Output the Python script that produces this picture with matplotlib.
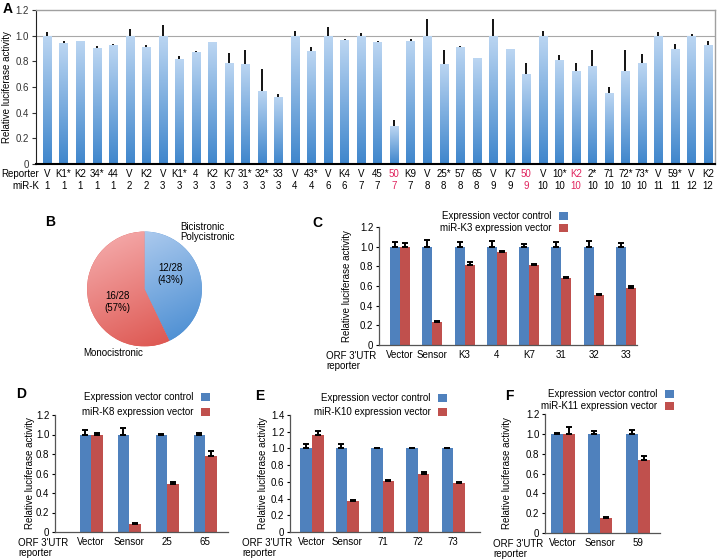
"""
Luciferase reporter assays for KSHV miRNA targets (panels A-F)
"""
import numpy as np
import matplotlib
matplotlib.use('Agg')
import matplotlib.pyplot as plt
from matplotlib.colors import LinearSegmentedColormap

plt.rcParams['font.family'] = ['Liberation Sans', 'DejaVu Sans']
plt.rcParams['font.size'] = 7

# ---- panel A data ----
a_reporter = ['V', 'K1*', 'K2', '34*', '44', 'V', 'K2', 'V', 'K1*', '4', 'K2',
              'K7', '31*', '32*', '33', 'V', '43*', 'V', 'K4', 'V', '45', '50',
              'K9', 'V', '25*', '57', '65', 'V', 'K7', '50', 'V', '10*', 'K2',
              '2*', '71', '72*', '73*', 'V', '59*', 'V', 'K2']
a_mirk = ['1', '1', '1', '1', '1', '2', '2', '3', '3', '3', '3', '3', '3', '3',
          '3', '4', '4', '6', '6', '7', '7', '7', '7', '8', '8', '8', '8', '9',
          '9', '9', '10', '10', '10', '10', '10', '10', '10', '11', '11', '12',
          '12']
a_values = [1.0, 0.94, 0.96, 0.90, 0.925, 1.0, 0.915, 1.0, 0.82, 0.873, 0.95,
            0.785, 0.78, 0.57, 0.523, 1.0, 0.878, 1.0, 0.966, 1.0, 0.95, 0.295,
            0.96, 1.0, 0.78, 0.912, 0.824, 1.0, 0.894, 0.70, 1.0, 0.813, 0.725,
            0.764, 0.552, 0.728, 0.787, 1.0, 0.896, 1.0, 0.927]
a_errors = [0.03, 0.02, 0.0, 0.02, 0.01, 0.05, 0.01, 0.08, 0.02, 0.005, 0.0,
            0.08, 0.11, 0.17, 0.02, 0.04, 0.03, 0.065, 0.01, 0.02, 0.01, 0.05,
            0.015, 0.13, 0.11, 0.005, 0.005, 0.13, 0.005, 0.09, 0.04, 0.035,
            0.065, 0.125, 0.05, 0.16, 0.07, 0.025, 0.04, 0.01, 0.03]
a_highlight = [21, 29, 32]

# ---- panel B data ----
pie_counts = [12, 16]
pie_colors = [('#4d8fd3', '#b4cff0'), ('#dd5650', '#f4a8a8')]

# ---- panel C-F data ----
c_reporters = ['Vector', 'Sensor', 'K3', '4', 'K7', '31', '32', '33']
c_ctrl = [1.0, 1.0, 1.0, 1.0, 1.0, 1.0, 1.0, 1.0]
c_ctrl_err = [0.05, 0.065, 0.05, 0.06, 0.03, 0.045, 0.06, 0.04]
c_mir = [1.0, 0.23, 0.815, 0.945, 0.81, 0.685, 0.505, 0.58]
c_mir_err = [0.04, 0.01, 0.03, 0.015, 0.015, 0.005, 0.01, 0.015]

d_reporters = ['Vector', 'Sensor', '25', '65']
d_ctrl = [1.0, 1.0, 1.0, 1.0]
d_ctrl_err = [0.045, 0.07, 0.005, 0.015]
d_mir = [1.0, 0.085, 0.49, 0.775]
d_mir_err = [0.02, 0.005, 0.025, 0.055]

e_reporters = ['Vector', 'Sensor', '71', '72', '73']
e_ctrl = [1.0, 1.0, 1.0, 1.0, 1.0]
e_ctrl_err = [0.055, 0.05, 0.01, 0.005, 0.01]
e_mir = [1.155, 0.37, 0.61, 0.69, 0.585]
e_mir_err = [0.055, 0.01, 0.01, 0.03, 0.01]

f_reporters = ['Vector', 'Sensor', '59']
f_ctrl = [1.0, 1.0, 1.0]
f_ctrl_err = [0.01, 0.03, 0.035]
f_mir = [1.0, 0.15, 0.735]
f_mir_err = [0.07, 0.01, 0.04]

BLUE = '#4f81bd'
RED = '#c0504d'
W, H = 720, 559


def px_axes(fig, x0, x1, y0, y1):
    """add axes from pixel box (top-left origin)"""
    return fig.add_axes([x0 / W, 1 - y1 / H, (x1 - x0) / W, (y1 - y0) / H])


def ftext(fig, x, y, s, **kw):
    fig.text(x / W, 1 - y / H, s, **kw)


def panel_a(fig):
    ax = px_axes(fig, 36, 715, 10, 164)
    x = np.arange(len(a_values))
    bars = ax.bar(x, a_values, 0.5, color='#4a8fd0', zorder=2)
    cmap = LinearSegmentedColormap.from_list('abar', ['#3f86cc', '#bcd6f2'])
    grad = np.linspace(0, 1, 256).reshape(-1, 1)
    for bar in bars:
        x0, w, h = bar.get_x(), bar.get_width(), bar.get_height()
        im = ax.imshow(grad, extent=[x0, x0 + w, 0, h], origin='lower',
                       cmap=cmap, aspect='auto', zorder=2)
        im.set_clip_path(bar)
    ax.errorbar(x, a_values, yerr=[np.zeros(len(x)), a_errors], fmt='none',
                ecolor='black', elinewidth=1.3, capsize=0, zorder=3)
    ax.axhline(1.0, color='#a8a8a8', lw=0.8, zorder=1)
    ax.set_xlim(-0.67, 40.42)
    ax.set_ylim(0, 1.2)
    ax.set_yticks(np.arange(0, 1.21, 0.2))
    ax.set_yticklabels(['0'] + ['%.1f' % v for v in np.arange(0.2, 1.21, 0.2)])
    ax.set_xticks([])
    ax.tick_params(axis='y', length=3, width=0.8, pad=2, labelsize=7,
                   colors='#333333')
    for s in ['top', 'right']:
        ax.spines[s].set_color('#a0a0a0')
        ax.spines[s].set_linewidth(1)
    ax.spines['left'].set_color('#222222')
    ax.spines['bottom'].set_linewidth(1.5)
    tr = ax.get_xaxis_transform()
    for i in x:
        col = '#e0245e' if i in a_highlight else 'black'
        ax.text(i, -0.065, a_reporter[i], transform=tr, ha='center',
                va='center', color=col, fontsize=7)
        ax.text(i, -0.143, a_mirk[i], transform=tr, ha='center',
                va='center', color=col, fontsize=7)
    ftext(fig, 39.5, 174, 'Reporter', ha='right', va='center')
    ftext(fig, 39.5, 186, 'miR-K', ha='right', va='center')
    ftext(fig, 7, 87, 'Relative luciferase activity', rotation=90,
          ha='center', va='center')


def panel_b(fig):
    ax = px_axes(fig, 86.5, 202.5, 231, 347)
    wedges, _ = ax.pie(pie_counts, startangle=90, counterclock=False,
                       colors=[c[0] for c in pie_colors], radius=1)
    yy, xx = np.mgrid[-1:1:200j, -1:1:200j]
    for wedge, (dark, light) in zip(wedges, pie_colors):
        cmap = LinearSegmentedColormap.from_list('pw', [dark, light])
        t = np.clip((0.45 * (-xx) + yy + 1.2) / 2.4, 0, 1)
        im = ax.imshow(t, extent=[-1, 1, -1, 1], origin='lower', cmap=cmap,
                       vmin=0, vmax=1, zorder=3)
        im.set_clip_path(wedge)
    ax.set_xlim(-1.01, 1.01)
    ax.set_ylim(-1.01, 1.01)
    ax.set_aspect('equal')
    ax.axis('off')
    ftext(fig, 180, 232, 'Bicistronic\nPolycistronic', ha='left', va='center',
          linespacing=1.05)
    ftext(fig, 170, 274, '12/28\n(43%)', ha='center', va='center',
          linespacing=1.15)
    ftext(fig, 117.5, 302, '16/28\n(57%)', ha='center', va='center',
          linespacing=1.15)
    ftext(fig, 113.5, 353, 'Monocistronic', ha='center', va='center')


def grouped_panel(fig, box, reporters, ctrl, ctrl_err, mir, mir_err, mir_label,
                  ymax, width, xlim, leg_xy, leg_sp, ylab_x, orf_xy):
    ax = px_axes(fig, *box)
    x = np.arange(len(reporters))
    ax.bar(x - width / 2, ctrl, width, color=BLUE, zorder=2,
           label='Expression vector control')
    ax.bar(x + width / 2, mir, width, color=RED, zorder=2, label=mir_label)
    zeros = np.zeros(len(x))
    ax.errorbar(x - width / 2, ctrl, yerr=[zeros, ctrl_err], fmt='none',
                ecolor='black', elinewidth=1.4, capsize=2, capthick=1.4,
                zorder=3)
    ax.errorbar(x + width / 2, mir, yerr=[zeros, mir_err], fmt='none',
                ecolor='black', elinewidth=1.4, capsize=2, capthick=1.4,
                zorder=3)
    ax.set_xlim(*xlim)
    ax.set_ylim(0, ymax)
    ticks = np.arange(0, ymax + 0.01, 0.2)
    ax.set_yticks(ticks)
    ax.set_yticklabels(['0'] + ['%.1f' % v for v in ticks[1:]])
    ax.set_xticks(x)
    ax.set_xticklabels(reporters)
    ax.tick_params(axis='x', length=0, pad=3.5, labelsize=7)
    ax.tick_params(axis='y', length=2.5, width=0.8, pad=1.5, labelsize=7)
    for s in ['top', 'right']:
        ax.spines[s].set_visible(False)
    for s in ['left', 'bottom']:
        ax.spines[s].set_color('#555555')
        ax.spines[s].set_linewidth(0.9)
    ax.legend(loc='upper right', bbox_to_anchor=(leg_xy[0] / W, 1 - leg_xy[1] / H),
              bbox_transform=fig.transFigure, frameon=False, markerfirst=False,
              handlelength=0.9, handleheight=0.9, handletextpad=0.8,
              labelspacing=leg_sp, borderpad=0, borderaxespad=0, fontsize=7)
    ftext(fig, ylab_x, (box[2] + box[3]) / 2, 'Relative luciferase activity',
          rotation=90, ha='center', va='center')
    ftext(fig, orf_xy[0], orf_xy[1], "ORF 3'UTR\nreporter", ha='left',
          va='top', linespacing=1.05)
    return ax


def main():
    fig = plt.figure(figsize=(7.2, 5.59), dpi=100)
    panel_a(fig)
    panel_b(fig)
    grouped_panel(fig, (379, 637, 227, 345), c_reporters, c_ctrl, c_ctrl_err,
                  c_mir, c_mir_err, 'miR-K3 expression vector', 1.2, 0.31,
                  (-0.65, 7.34), (568, 211), 0.25, 347, (326, 351))
    grouped_panel(fig, (55, 228, 415, 532), d_reporters, d_ctrl, d_ctrl_err,
                  d_mir, d_mir_err, 'miR-K8 expression vector', 1.2, 0.30,
                  (-0.95, 3.6), (210, 392), 0.55, 30, (18, 538))
    grouped_panel(fig, (290, 480, 415, 532), e_reporters, e_ctrl, e_ctrl_err,
                  e_mir, e_mir_err, 'miR-K10 expression vector', 1.4, 0.33,
                  (-0.62, 4.76), (447, 393), 0.45, 263, (242, 538))
    grouped_panel(fig, (545, 660, 414, 533), f_reporters, f_ctrl, f_ctrl_err,
                  f_mir, f_mir_err, 'miR-K11 expression vector', 1.2, 0.32,
                  (-0.48, 2.59), (674, 389), 0.25, 507, (493, 539))
    for letter, (lx, ly) in zip('ABCDEF', [(7.5, 9), (50, 222), (317, 223),
                                         (21, 394), (260, 396), (509, 396)]):
        ftext(fig, lx, ly, letter, fontsize=10, fontweight='bold',
              ha='center', va='center')
    fig.savefig('out.png', dpi=100)


if __name__ == '__main__':
    main()
